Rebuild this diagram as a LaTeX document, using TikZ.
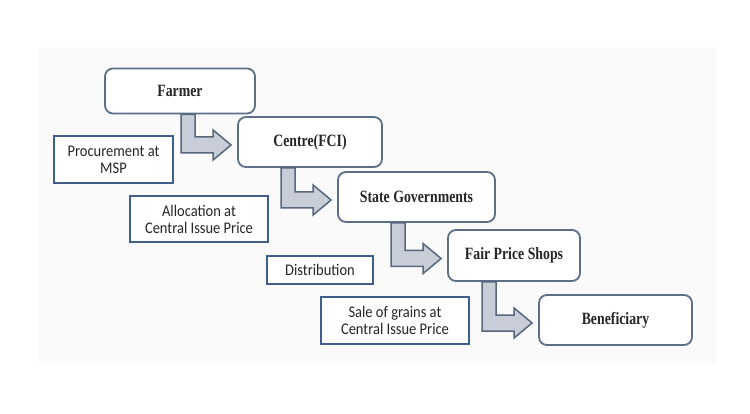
\documentclass[tikz,border=0pt]{standalone}
\usepackage{fontspec}
\usepackage{graphicx}
\setmainfont{Carlito}
\newfontfamily\serifbox{Liberation Serif}
\usetikzlibrary{calc}
\definecolor{boxline}{HTML}{5B6F88}
\definecolor{lblline}{HTML}{3F5E8C}
\definecolor{arrfill}{HTML}{C8CDD7}
\definecolor{arrline}{HTML}{56677E}
\definecolor{panel}{HTML}{FAFAFA}
\newcommand{\stagetext}[1]{\scalebox{0.92}[1.15]{#1}}
\newcommand{\lbltext}[1]{\scalebox{1}[1.12]{#1}}
\begin{document}
\begin{tikzpicture}[x=1pt,y=-1pt,
  stage/.style={draw=boxline, line width=1.8pt, rounded corners=8pt, fill=white,
    font=\serifbox\bfseries\fontsize{15}{18}\selectfont, text=black!85},
  lbl/.style={draw=lblline, line width=2pt, fill=white, align=center,
    font=\fontsize{14.5}{17}\selectfont, text=black!85},
  bent/.style={draw=arrline, line width=1.5pt, fill=arrfill, line join=miter}]
\useasboundingbox (0,0) rectangle (750,414);
\fill[white] (0,0) rectangle (750,414);
\fill[panel] (38,47) rectangle (716,363);

\node[stage, minimum width=150pt, minimum height=45pt] (farmer) at (180,91) {\stagetext{Farmer}};
\node[stage, minimum width=144pt, minimum height=50pt] (centre) at (310,142) {\stagetext{Centre(FCI)}};
\node[stage, minimum width=157pt, minimum height=50pt] (state) at (416.5,197) {\stagetext{State Governments}};
\node[stage, minimum width=132pt, minimum height=51pt] (fps) at (514,255.5) {\stagetext{Fair Price Shops}};
\node[stage, minimum width=153pt, minimum height=50pt] (benef) at (615.5,320) {\stagetext{Beneficiary}};

\node[lbl, minimum width=119pt, minimum height=47pt] (proc) at (113.5,159.5) {\lbltext{Procurement at}\\\lbltext{MSP}};
\node[lbl, minimum width=138pt, minimum height=46pt] (alloc) at (199,219) {\lbltext{Allocation at}\\\lbltext{Central Issue Price}};
\node[lbl, minimum width=106pt, minimum height=28pt] (distr) at (320,270) {\lbltext{Distribution}};
\node[lbl, minimum width=148pt, minimum height=47pt] (sale) at (395,320.5) {\lbltext{Sale of grains at}\\\lbltext{Central Issue Price}};

\foreach \s/\t in {farmer/centre, centre/state, state/fps, fps/benef}{
  \path[bent] let \p1=(\s.south), \p2=(\t.west) in
    (\x2-56pt,\y1) -- (\x2-42pt,\y1) -- (\x2-42pt,\y2-3pt+8pt) -- (\x2-24pt,\y2-3pt+8pt)
    -- (\x2-24pt,\y2-3pt+15pt) -- (\x2-6pt,\y2-3pt) -- (\x2-24pt,\y2-3pt-15pt)
    -- (\x2-24pt,\y2-3pt-8pt) -- (\x2-56pt,\y2-3pt-8pt) -- cycle;
}
\end{tikzpicture}
\end{document}
